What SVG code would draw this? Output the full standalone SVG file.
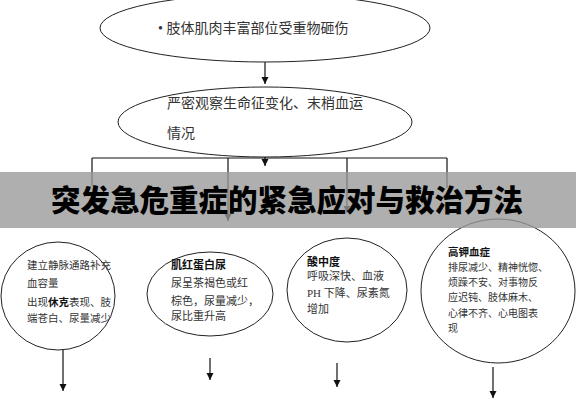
<svg xmlns="http://www.w3.org/2000/svg" width="576" height="400" viewBox="0 0 576 400">
<defs>
<marker id="ah" markerUnits="userSpaceOnUse" markerWidth="8" markerHeight="8" refX="7" refY="3.5" orient="auto">
<path d="M0,0 L7,3.5 L0,7 Z" fill="#111"/>
</marker>
<style>
.nd{fill:#fff;stroke:#222;stroke-width:1}
.t{font-family:"Liberation Serif","Noto Sans CJK SC",serif;fill:#333}
.b{font-family:"Noto Sans CJK SC",sans-serif;font-weight:700;fill:#111}
.c{stroke:#111;stroke-width:1.2;fill:none}
.ca{stroke:#111;stroke-width:1.2;fill:none;marker-end:url(#ah)}
</style>
</defs>
<rect width="576" height="400" fill="#fff"/>
<g id="connectors">
<line class="ca" x1="265" y1="62" x2="265" y2="84"/>
<line class="ca" x1="265" y1="156" x2="265" y2="166"/>
<line class="c" x1="92" y1="158" x2="447" y2="158"/>
<line class="c" x1="92" y1="158" x2="92" y2="186"/>
<line class="ca" x1="228" y1="158" x2="228" y2="221"/>
<line class="ca" x1="347" y1="158" x2="347" y2="213"/>
<line class="c" x1="447" y1="158" x2="447" y2="188"/>
<line class="ca" x1="63" y1="350" x2="63" y2="391"/>
<line class="ca" x1="210" y1="358" x2="210" y2="380"/>
<line class="ca" x1="337" y1="363" x2="337" y2="387"/>
<line class="ca" x1="493" y1="367" x2="493" y2="398"/>
</g>
<g id="n1">
<ellipse class="nd" cx="265" cy="28" rx="165" ry="34"/>
<text class="t" x="158" y="33" font-size="14">• 肢体肌肉丰富部位受重物砸伤</text>
</g>
<g id="n2">
<ellipse class="nd" cx="265" cy="122" rx="147" ry="35"/>
<text class="t" x="167" y="108" font-size="14">严密观察生命征变化、末梢血运</text>
<text class="t" x="167" y="138" font-size="14">情况</text>
</g>
<g id="n3">
<ellipse class="nd" cx="58" cy="296" rx="57" ry="54"/>
<text class="t" x="27" y="269" font-size="10.5">建立静脉通路补充</text>
<text class="t" x="27" y="287" font-size="10.5">血容量</text>
<text class="t" x="27" y="306" font-size="10.5">出现<tspan class="b">休克</tspan>表现、肢</text>
<text class="t" x="27" y="322" font-size="10.5">端苍白、尿量减少</text>
</g>
<g id="n4">
<ellipse class="nd" cx="210" cy="294" rx="63" ry="42"/>
<text class="b" x="171" y="269" font-size="11">肌红蛋白尿</text>
<text class="t" x="171" y="287" font-size="11">尿呈茶褐色或红</text>
<text class="t" x="171" y="305" font-size="11">棕色，尿量减少，</text>
<text class="t" x="171" y="320" font-size="11">尿比重升高</text>
</g>
<g id="n5">
<ellipse class="nd" cx="347" cy="290" rx="60" ry="52"/>
<text class="b" x="307" y="266" font-size="11">酸中度</text>
<text class="t" x="307" y="280" font-size="11">呼吸深快、血液</text>
<text class="t" x="307" y="297" font-size="11">PH 下降、尿素氮</text>
<text class="t" x="307" y="313" font-size="11">增加</text>
</g>
<g id="n6">
<ellipse class="nd" cx="498" cy="291" rx="77" ry="72"/>
<text class="b" x="448" y="256" font-size="10.5">高钾血症</text>
<text class="t" x="448" y="271" font-size="10">排尿减少、精神恍惚、</text>
<text class="t" x="448" y="286" font-size="10">烦躁不安、对事物反</text>
<text class="t" x="448" y="301" font-size="10">应迟钝、肢体麻木、</text>
<text class="t" x="448" y="317" font-size="10">心律不齐、心电图表</text>
<text class="t" x="448" y="332" font-size="10">现</text>
</g>
<g id="banner">
<rect x="0" y="172" width="576" height="56" fill="#999" fill-opacity="0.78"/>
<text x="287" y="211" text-anchor="middle" font-family="Noto Sans CJK SC, sans-serif" font-weight="900" font-size="29.5" fill="#000">突发急危重症的紧急应对与救治方法</text>
</g>
</svg>
